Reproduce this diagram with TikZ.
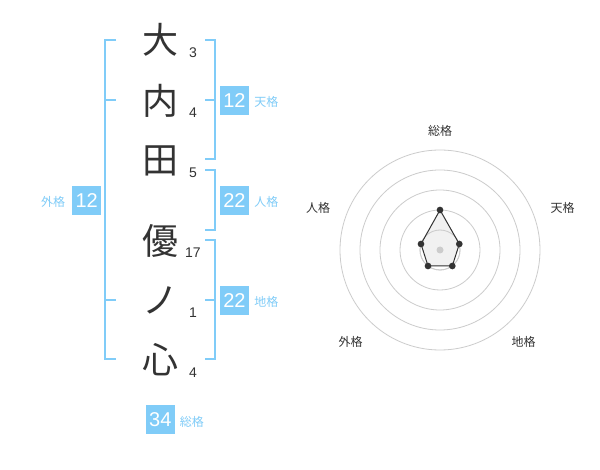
\documentclass[tikz,border=0pt]{standalone}
\usepackage{fontspec}
\setmainfont{Liberation Sans}
\newfontfamily\jp{Noto Sans CJK JP}
\definecolor{skyb}{HTML}{80CCF8}
\definecolor{ink}{HTML}{333333}
\definecolor{ring}{HTML}{CCCCCC}
\definecolor{areafill}{HTML}{EEEEEE}
\tikzset{
  kanji/.style={font=\jp\fontsize{27}{27}\selectfont, text=ink, inner sep=0pt},
  strk/.style={font=\fontsize{10.5}{10.5}\selectfont, text=ink, inner sep=0pt},
  br/.style={draw=skyb, line width=1.3pt},
  numbox/.style={fill=skyb, text=white, minimum size=21.75pt, inner sep=0pt, font=\fontsize{15}{15}\selectfont},
  lbl/.style={font=\jp\fontsize{9}{9}\selectfont, text=skyb, inner sep=0pt},
  rlbl/.style={font=\jp\fontsize{9}{9}\selectfont, text=ink, inner sep=0pt},
  ringline/.style={draw=ring, line width=0.6pt},
  vdot/.style={circle, fill=ink, minimum size=5pt, inner sep=0pt},
}
\begin{document}
\begin{tikzpicture}[x=0.75pt,y=-0.75pt]
\useasboundingbox[fill=white] (0,0) rectangle (600,470);
% characters
\node[kanji] (k1) at (160,40) {大};
\node[kanji] (k2) at (160,101) {内};
\node[kanji] (k3) at (160,161) {田};
\node[kanji] (k4) at (160,241) {優};
\node[kanji] (k5) at (160,300) {ノ};
\node[kanji] (k6) at (160,360) {心};
% stroke counts
\node[strk] (s1) at (193,53) {3};
\node[strk] (s2) at (193,113) {4};
\node[strk] (s3) at (193,173) {5};
\node[strk] (s4) at (193,253) {17};
\node[strk] (s5) at (193,313) {1};
\node[strk] (s6) at (193,373) {4};
% left bracket (gaikaku)
\draw[br] (116,40) -- (105,40) -- (105,359) -- (116,359);
\draw[br] (105,100) -- (116,100);
\draw[br] (105,300) -- (116,300);
% tenkaku bracket
\draw[br] (205,40) -- (215,40) -- (215,159) -- (205,159);
\draw[br] (205,100) -- (215,100);
% jinkaku bracket
\draw[br] (205,170) -- (215,170) -- (215,230) -- (205,230);
% chikaku bracket
\draw[br] (205,240) -- (215,240) -- (215,359) -- (205,359);
\draw[br] (205,300) -- (215,300);
% boxes and labels
\node[numbox] (ten) at (234.5,100.3) {12};
\node[lbl, anchor=west] (tenl) at (254,102) {天格};
\node[numbox] (jin) at (234.5,200.3) {22};
\node[lbl, anchor=west] (jinl) at (254,202) {人格};
\node[numbox] (chi) at (234.5,300.3) {22};
\node[lbl, anchor=west] (chil) at (254,302) {地格};
\node[numbox] (gai) at (86.7,200.3) {12};
\node[lbl, anchor=east] (gail) at (65.5,202) {外格};
\node[numbox] (sou) at (160.3,419.7) {34};
\node[lbl, anchor=west] (soul) at (179.5,421.5) {総格};
% radar chart
\coordinate (c) at (440,250);
\foreach \r in {20,40,60,80,100} {
  \draw[ringline] (c) circle[radius=\r];
}
\coordinate (p1) at (440,210);
\coordinate (p2) at (459.3,244);
\coordinate (p3) at (452.3,266);
\coordinate (p4) at (428,266);
\coordinate (p5) at (421,244);
\fill[areafill, opacity=0.8] (p1) -- (p2) -- (p3) -- (p4) -- (p5) -- cycle;
\draw[ringline] (c) circle[radius=20];
\draw[ink, line width=0.75pt, line join=round] (p1) -- (p2) -- (p3) -- (p4) -- (p5) -- cycle;
\fill[ring] (c) circle[radius=3.5];
\foreach \p in {p1,p2,p3,p4,p5} {
  \node[vdot] at (\p) {};
}
\node[rlbl] (r1) at (440,130.5) {総格};
\node[rlbl] (r2) at (562.5,208) {天格};
\node[rlbl] (r3) at (318,208) {人格};
\node[rlbl] (r4) at (350.5,342) {外格};
\node[rlbl] (r5) at (523.5,342) {地格};
\end{tikzpicture}
\end{document}
